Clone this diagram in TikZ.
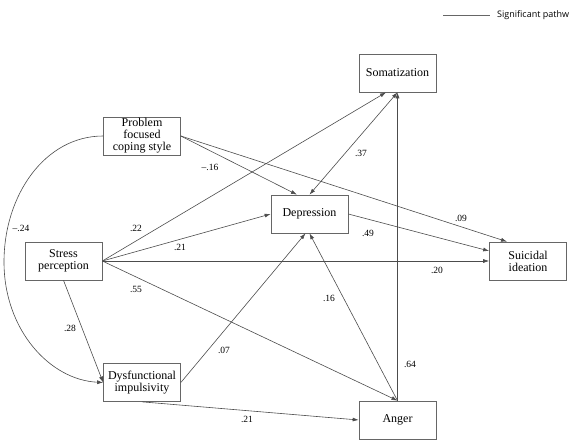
\documentclass[tikz,border=0pt]{standalone}
\usepackage{fontspec}
\setmainfont{Liberation Serif}
\newfontfamily\keyfont{Open Sans}
\usepackage{tikz}
\usetikzlibrary{positioning, arrows.meta}
\usepackage{xcolor}

\begin{document}
\begin{tikzpicture}[x=1pt, y=-1pt,
    var/.style={draw=black!60, line width=0.7pt, minimum width=77pt, minimum height=38pt,
        inner sep=1pt, align=center, font=\fontsize{12}{12}\selectfont},
    coef/.style={inner sep=0pt, font=\fontsize{9.5}{10}\selectfont},
    link/.style={-{Latex[length=6pt, width=4pt]}, line width=0.6pt, black!70},
    both/.style={{Latex[length=6pt, width=4pt]}-{Latex[length=6pt, width=4pt]}, line width=0.6pt, black!70}]
    \useasboundingbox (0,0) rectangle (576,441);

    % Key
    \node[anchor=west, inner sep=0pt, font=\keyfont\fontsize{9}{10}\selectfont] (key) at (497,15) {Significant pathw};
    \draw[line width=0.6pt, black!60] (443,15) -- (490,15);

    % Variables
    \node[var] (soma)   at (397.5,73)  {Somatization};
    \node[var] (prob)   at (142,136)   {Problem\\focused\\coping style};
    \node[var] (dep)    at (309.5,214) {Depression};
    \node[var] (stress) at (63.5,261)  {Stress\\perception};
    \node[var] (sui)    at (528,261)   {Suicidal\\ideation};
    \node[var] (dysf)   at (142,382.5) {Dysfunctional\\impulsivity};
    \node[var] (anger)  at (397.5,420) {Anger};

    % Paths out of stress perception
    \draw[link] (stress.east) -- ([xshift=-11.5pt]soma.south);
    \draw[link] (stress.east) -- (dep.west);
    \draw[link] (stress.east) -- (sui.west);
    \draw[link] (stress.east) -- (anger.north);
    \draw[link] (stress.south) -- (dysf.west);

    % Coping style
    \draw[link] (prob.east) -- ([xshift=-12.5pt]dep.north);
    \draw[link] (prob.east) -- ([xshift=-21pt]sui.north);
    \draw[link] (prob.west) .. controls (45,136) and (4,195) .. (4,262)
        .. controls (4,330) and (50,380) .. (dysf.west);

    % Mediators
    \draw[both] (dep.north) -- (soma.south);
    \draw[link] (dep.east) -- ([yshift=10pt]sui.west);
    \draw[link] (dysf.east) -- ([xshift=-4pt]dep.south);
    \draw[link] (dysf.south) -- (anger.west);
    \draw[link] (anger.north) -- (dep.south);
    \draw[link] (anger.north) -- (soma.south);

    % Coefficients
    \node[coef] (c-prob-dep)    at (210,167) {--.16};
    \node[coef] (c-prob-dysf)   at (21,228)  {--.24};
    \node[coef] (c-str-soma)    at (136,228) {.22};
    \node[coef] (c-str-dep)     at (180,247) {.21};
    \node[coef] (c-str-anger)   at (136,289) {.55};
    \node[coef] (c-str-dysf)    at (70,328)  {.28};
    \node[coef] (c-dysf-dep)    at (224,350) {.07};
    \node[coef] (c-dysf-anger)  at (247,419) {.21};
    \node[coef] (c-dep-soma)    at (361,153) {.37};
    \node[coef] (c-prob-sui)    at (461,218) {.09};
    \node[coef] (c-dep-sui)     at (368,233) {.49};
    \node[coef] (c-str-sui)     at (437,270) {.20};
    \node[coef] (c-anger-dep)   at (329,298) {.16};
    \node[coef] (c-anger-soma)  at (410,364) {.64};
\end{tikzpicture}
\end{document}
